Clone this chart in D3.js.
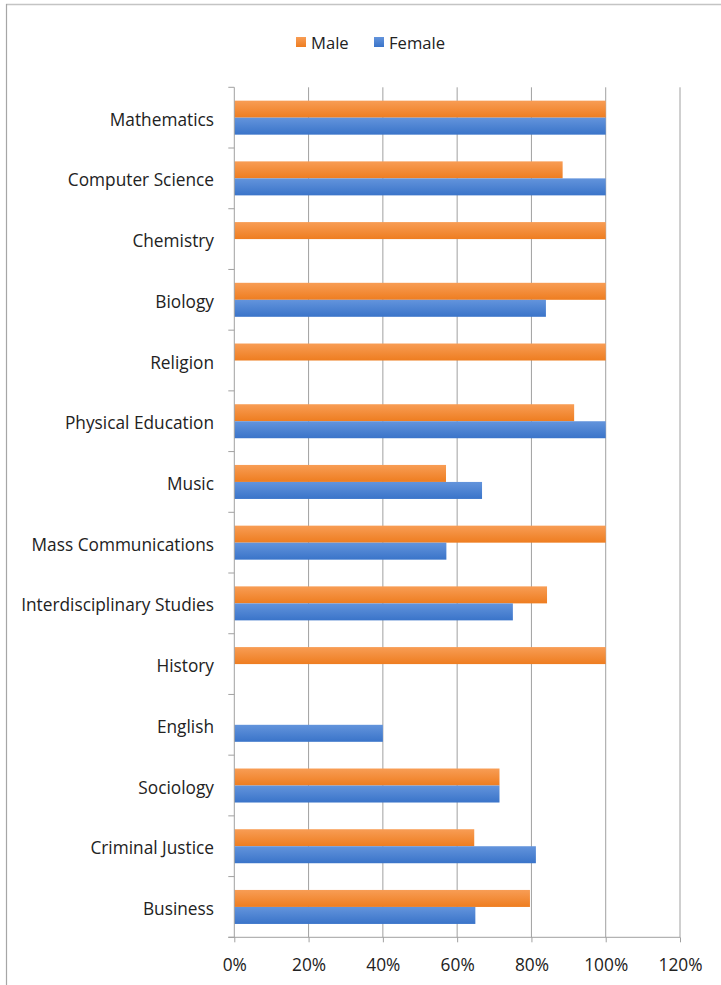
<!DOCTYPE html>
<html><head><meta charset="utf-8">
<script src="https://cdn.jsdelivr.net/npm/d3@7"></script>
<style>body{margin:0;background:#fff;} svg{display:block;}</style>
</head><body>
<svg id="chart" width="721" height="985"></svg>
<script>
const categories = ["Mathematics","Computer Science","Chemistry","Biology","Religion","Physical Education","Music","Mass Communications","Interdisciplinary Studies","History","English","Sociology","Criminal Justice","Business"];
const maleValues   = [1.00, 0.884, 1.00, 1.00, 1.00, 0.915, 0.57, 1.00, 0.842, 1.00, null, 0.714, 0.646, 0.796];
const femaleValues = [1.00, 1.00, null, 0.839, null, 1.00, 0.667, 0.571, 0.75, null, 0.40, 0.714, 0.812, 0.649];
const seriesNames = ["Male","Female"];
const tickValues = [0,0.2,0.4,0.6,0.8,1.0,1.2];

const svg = d3.select("#chart");
const font = "'Open Sans', sans-serif";
const m = {left:234.3, right:680, top:87.3, bottom:937.3};

// size a font so a sample string reaches a target width
function fitSize(str, target){
  const t = svg.append("text").attr("font-family",font).attr("font-size",16).text(str);
  const w = t.node().getComputedTextLength();
  t.remove();
  return 16*target/w;
}
const labelSize = Math.min(18, fitSize("Interdisciplinary Studies",193));
const tickSize = Math.min(18, fitSize("120%",44));
const legSize = Math.min(18, fitSize("Female",56));

// outer border
svg.append("line").attr("x1",6).attr("x2",721).attr("y1",4.5).attr("y2",4.5).attr("stroke","#c4c4c4").attr("stroke-width",1.5);
svg.append("line").attr("x1",6.5).attr("x2",6.5).attr("y1",4).attr("y2",985).attr("stroke","#a6a6a6").attr("stroke-width",1.2);

const defs = svg.append("defs");
const grads = [["gMale","#f89d55","#ee7d20"],["gFemale","#6394dc","#3a74c9"]];
grads.forEach(([id,c1,c2])=>{
  const g = defs.append("linearGradient").attr("id",id).attr("x1",0).attr("x2",0).attr("y1",0).attr("y2",1);
  g.append("stop").attr("offset","0%").attr("stop-color",c1);
  g.append("stop").attr("offset","100%").attr("stop-color",c2);
});

const x = d3.scaleLinear().domain([0,1.2]).range([m.left,m.right]);
const y = d3.scaleBand().domain(categories).range([m.top,m.bottom]).paddingInner(0.44).paddingOuter(0.22);
const sub = d3.scaleBand().domain(seriesNames).range([0,y.bandwidth()]);

// gridlines
svg.append("g").selectAll("line").data(tickValues.slice(1)).join("line")
  .attr("x1",d=>x(d)).attr("x2",d=>x(d)).attr("y1",m.top).attr("y2",m.bottom)
  .attr("stroke","#a0a0a0").attr("stroke-width",1);

// bars
const rows = categories.map((c,i)=>({c, vals:[maleValues[i],femaleValues[i]]}));
const barG = svg.append("g");
rows.forEach(r=>{
  r.vals.forEach((v,j)=>{
    if(v==null) return;
    barG.append("rect")
      .attr("x",x(0)).attr("y",y(r.c)+sub(seriesNames[j]))
      .attr("width",x(v)-x(0)).attr("height",sub.bandwidth())
      .attr("fill",j===0?"url(#gMale)":"url(#gFemale)");
  });
});

// y axis line and ticks (category boundaries)
const step = (m.bottom-m.top)/categories.length;
svg.append("line").attr("x1",m.left).attr("x2",m.left).attr("y1",m.top).attr("y2",m.bottom).attr("stroke","#a0a0a0");
svg.append("g").selectAll("line").data(d3.range(categories.length+1)).join("line")
  .attr("x1",m.left-6).attr("x2",m.left).attr("y1",i=>m.top+i*step).attr("y2",i=>m.top+i*step)
  .attr("stroke","#a0a0a0");

// x axis
const xAxis = d3.axisBottom(x).tickValues(tickValues).tickFormat(d3.format(".0%")).tickSize(5).tickSizeOuter(0);
const xg = svg.append("g").attr("transform",`translate(0,${m.bottom})`).call(xAxis);
xg.select(".domain").attr("stroke","#a0a0a0").attr("d",`M${m.left-6},0H${m.right}`);
xg.selectAll(".tick line").attr("stroke","#a0a0a0");
xg.selectAll(".tick text").attr("font-family",font).attr("font-size",tickSize).attr("fill","#222").attr("y",0).attr("dy","1.95em");

// category labels
svg.append("g").selectAll("text").data(categories).join("text")
  .attr("x",214).attr("y",d=>y(d)+y.bandwidth()/2+2).attr("dy","0.35em")
  .attr("text-anchor","end").attr("font-family",font).attr("font-size",labelSize).attr("fill","#222")
  .text(d=>d);

// legend
const legend = svg.append("g");
const legItems = [{n:"Male",f:"url(#gMale)",x:296},{n:"Female",f:"url(#gFemale)",x:374}];
legItems.forEach(it=>{
  legend.append("rect").attr("x",it.x).attr("y",37).attr("width",10).attr("height",10).attr("fill",it.f);
  legend.append("text").attr("x",it.x+15).attr("y",43).attr("dy","0.35em").attr("font-family",font)
    .attr("font-size",legSize).attr("fill","#222").text(it.n);
});
</script>
</body></html>
